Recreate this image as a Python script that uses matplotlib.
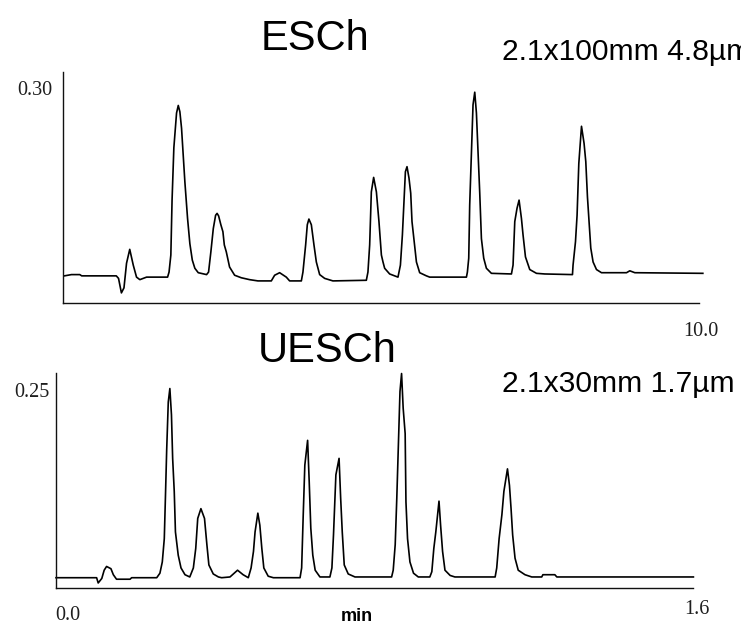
import matplotlib
matplotlib.use("Agg")
import matplotlib.pyplot as plt

# ESCh trace, 2.1x100mm 4.8um column (time in min, absorbance in AU)
esch_time = [0.03, 0.14, 0.27, 0.30, 0.84, 0.875, 0.92, 0.96, 1.00, 1.05,
             1.105, 1.156, 1.208, 1.313, 1.641,
             1.664, 1.692, 1.711, 1.739, 1.781, 1.808, 1.833, 1.859, 1.886, 1.911,
             1.953, 1.989, 2.027, 2.067, 2.120, 2.250,
             2.281, 2.317, 2.355, 2.391, 2.414, 2.438, 2.473, 2.505, 2.527, 2.558,
             2.609, 2.688, 2.792, 2.922, 3.052, 3.261,
             3.313, 3.391, 3.495, 3.547, 3.730,
             3.755, 3.797, 3.823, 3.848, 3.886, 3.927, 3.964, 4.016, 4.094, 4.223, 4.745,
             4.770, 4.797, 4.823, 4.859, 4.902, 4.942, 4.980, 5.005, 5.031, 5.109, 5.239,
             5.277, 5.308, 5.328, 5.355, 5.380, 5.411, 5.438, 5.458, 5.489, 5.527,
             5.578, 5.683, 5.734, 6.308,
             6.323, 6.344, 6.359, 6.386, 6.411, 6.438, 6.464, 6.489, 6.516, 6.542,
             6.578, 6.620, 6.698, 7.011,
             7.036, 7.063, 7.098, 7.130, 7.167, 7.192, 7.230, 7.297, 7.402, 7.531, 7.964,
             7.973, 8.011, 8.036, 8.063, 8.105, 8.145, 8.172, 8.198, 8.223, 8.250,
             8.286, 8.339, 8.417, 8.808, 8.859, 8.938, 10.0]
esch_abs = [0.002, 0.004, 0.004, 0.002, 0.002, -0.002, -0.025, -0.017, 0.022, 0.044,
            0.019, 0.000, -0.004, 0.000, 0.000,
            0.008, 0.035, 0.122, 0.205, 0.260, 0.272, 0.262, 0.236, 0.191, 0.151,
            0.093, 0.053, 0.027, 0.014, 0.007, 0.004,
            0.008, 0.040, 0.077, 0.098, 0.101, 0.097, 0.083, 0.072, 0.051, 0.040,
            0.016, 0.003, -0.001, -0.004, -0.006, -0.006,
            0.003, 0.007, 0.000, -0.006, -0.006,
            0.008, 0.051, 0.083, 0.092, 0.083, 0.051, 0.024, 0.004, -0.002, -0.006, -0.005,
            0.008, 0.051, 0.135, 0.158, 0.135, 0.088, 0.035, 0.024, 0.014, 0.005, 0.000,
            0.019, 0.067, 0.109, 0.167, 0.175, 0.157, 0.133, 0.088, 0.059, 0.024,
            0.007, 0.002, 0.000, 0.000,
            0.008, 0.030, 0.114, 0.199, 0.273, 0.293, 0.260, 0.199, 0.133, 0.061,
            0.030, 0.014, 0.006, 0.005,
            0.019, 0.088, 0.109, 0.122, 0.093, 0.067, 0.032, 0.012, 0.006, 0.005, 0.004,
            0.019, 0.056, 0.098, 0.180, 0.239, 0.212, 0.183, 0.127, 0.088, 0.046,
            0.024, 0.012, 0.007, 0.007, 0.010, 0.007, 0.006]

# UESCh trace, 2.1x30mm 1.7um column
uesch_time = [0.0, 0.102, 0.106, 0.115, 0.121, 0.127, 0.138, 0.144, 0.152, 0.186,
              0.190, 0.253,
              0.261, 0.267, 0.272, 0.275, 0.278, 0.282, 0.286, 0.290, 0.293, 0.297,
              0.300, 0.307, 0.314, 0.324, 0.336,
              0.345, 0.351, 0.356, 0.364, 0.373, 0.379, 0.384, 0.395, 0.408, 0.416, 0.437,
              0.456, 0.470, 0.483,
              0.490, 0.496, 0.500, 0.507, 0.512, 0.517, 0.522, 0.533, 0.546, 0.613,
              0.617, 0.621, 0.625, 0.632, 0.636, 0.640, 0.645, 0.651, 0.663, 0.688,
              0.693, 0.697, 0.703, 0.711, 0.715, 0.719, 0.724, 0.734, 0.751, 0.843,
              0.847, 0.852, 0.856, 0.860, 0.864, 0.868, 0.872, 0.877, 0.879, 0.883,
              0.889, 0.898, 0.910, 0.939,
              0.944, 0.949, 0.954, 0.962, 0.966, 0.971, 0.977, 0.990, 1.002, 1.103,
              1.107, 1.113, 1.120, 1.125, 1.134, 1.139, 1.143, 1.147, 1.153, 1.161,
              1.178, 1.195, 1.220, 1.223, 1.253, 1.258, 1.601]
uesch_abs = [0.000, 0.000, -0.007, -0.001, 0.010, 0.015, 0.012, 0.004, -0.002, -0.002,
             0.000, 0.000,
             0.006, 0.021, 0.052, 0.110, 0.170, 0.234, 0.252, 0.217, 0.159, 0.115,
             0.061, 0.030, 0.013, 0.004, 0.001,
             0.013, 0.039, 0.079, 0.092, 0.079, 0.044, 0.017, 0.005, 0.001, 0.000, 0.001,
             0.010, 0.004, 0.000,
             0.013, 0.035, 0.061, 0.086, 0.070, 0.039, 0.013, 0.002, 0.000, 0.000,
             0.013, 0.084, 0.150, 0.183, 0.128, 0.066, 0.030, 0.010, 0.001, 0.001,
             0.013, 0.057, 0.137, 0.159, 0.106, 0.061, 0.017, 0.005, 0.001, 0.001,
             0.010, 0.044, 0.106, 0.177, 0.248, 0.272, 0.226, 0.192, 0.101, 0.052,
             0.021, 0.006, 0.001, 0.001,
             0.008, 0.039, 0.061, 0.102, 0.070, 0.035, 0.010, 0.003, 0.001, 0.001,
             0.013, 0.052, 0.084, 0.115, 0.145, 0.123, 0.092, 0.057, 0.026, 0.010,
             0.004, 0.001, 0.001, 0.004, 0.004, 0.001, 0.001]

W, H = 741, 626
SANS = "Liberation Sans"
SERIF = "Liberation Serif"
NUM_COLOR = "#1e1e1e"


def px(x, y):
    """pixel position -> figure fraction"""
    return x / W, 1 - y / H


def panel(fig, rect, t, a, xlim, ylim, ytick, ypad):
    ax = fig.add_axes(rect)
    ax.plot(t, a, color="black", lw=1.2, clip_on=False)
    ax.set_xlim(*xlim)
    ax.set_ylim(*ylim)
    for s in ["top", "right"]:
        ax.spines[s].set_visible(False)
    for s in ["left", "bottom"]:
        ax.spines[s].set_linewidth(1.0)
        ax.spines[s].set_color("#111111")
    ax.set_xticks([])
    ax.set_yticks([ytick])
    ax.set_yticklabels([f"{ytick:.2f}"], family=SERIF, fontsize=14.5, color=NUM_COLOR)
    ax.tick_params(axis="y", length=0, pad=ypad)
    ax.set_facecolor("none")
    return ax


fig = plt.figure(figsize=(W / 100, H / 100), dpi=100)

# top: ESCh
panel(fig, [62.5 / W, 1 - 303 / H, (699 - 62.5) / W, (303 - 72) / H],
      esch_time, esch_abs, (0, 9.94), (-0.041, 0.325), 0.30, 7)
# bottom: UESCh
panel(fig, [56 / W, 1 - 588.3 / H, (693 - 56) / W, (588.3 - 373) / H],
      uesch_time, uesch_abs, (0, 1.6), (-0.0141, 0.2727), 0.25, 4.5)

fig.text(*px(315, 50), "ESCh", family=SANS, fontsize=30, ha="center", va="baseline")
fig.text(*px(327.5, 362), "UESCh", family=SANS, fontsize=30, ha="center", va="baseline")
fig.text(*px(502, 60), "2.1x100mm 4.8\u00b5m", family=SANS, fontsize=21.6, ha="left", va="baseline")
fig.text(*px(502, 392), "2.1x30mm 1.7\u00b5m", family=SANS, fontsize=21.6, ha="left", va="baseline")

fig.text(*px(701, 336), "10.0", family=SERIF, fontsize=14.5, color=NUM_COLOR, ha="center", va="baseline")
fig.text(*px(55, 620), "0.0", family=SERIF, fontsize=14.5, color=NUM_COLOR, ha="left", va="baseline")
fig.text(*px(697, 614), "1.6", family=SERIF, fontsize=14.5, color=NUM_COLOR, ha="center", va="baseline")
fig.text(*px(357, 621), "min", family=SANS, fontsize=13, fontweight="bold", ha="center", va="baseline")

fig.savefig("out.png", dpi=100)
